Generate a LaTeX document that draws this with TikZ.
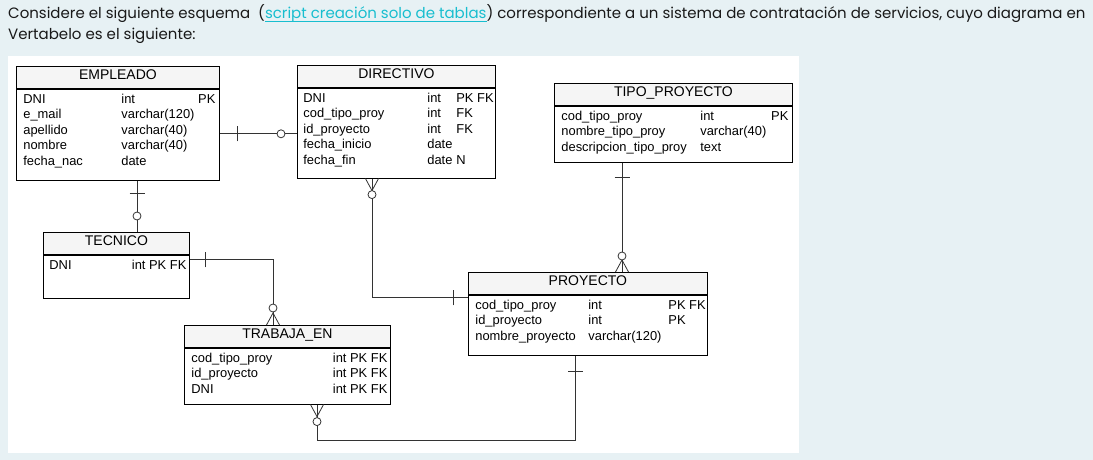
\documentclass[tikz,border=0pt]{standalone}
\usepackage{fontspec}
\setmainfont{Liberation Sans}
\newfontfamily\introfont{Poppins}
\newfontfamily\erdfont{Liberation Sans}
\usetikzlibrary{decorations.markings}
\definecolor{pagebg}{RGB}{231,241,244}
\definecolor{linkcol}{RGB}{24,190,207}
\definecolor{introtext}{RGB}{25,25,25}
\tikzset{
    tabhead/.style={draw, fill=gray!8, line width=0.8pt, minimum height=22pt, inner sep=0pt,
        text height=9.5pt, text depth=5pt, anchor=north west, font=\erdfont\fontsize{14}{16}\selectfont},
    tabbody/.style={draw, line width=0.8pt, inner sep=0pt, anchor=north west,
        font=\erdfont\fontsize{12.9}{15.5}\selectfont},
    intro/.style={anchor=base west, inner sep=0pt, text=introtext,
        font=\introfont\fontsize{15}{21}\selectfont},
    rel/.style={draw=black!80, line width=0.8pt},
    onebar/.style={postaction={decorate, decoration={markings,
        mark=at position #1 with {\draw[rel] (0,-7.5pt) -- (0,7.5pt);}}}},
    zeroring/.style={postaction={decorate, decoration={markings,
        mark=at position #1 with {\draw[rel, fill=white] (0,0) circle (4pt);}}}},
    crowstart/.style={postaction={decorate, decoration={markings,
        mark=at position 12pt with {\draw[rel] (-12pt,-6.5pt) -- (0,0) -- (-12pt,6.5pt);}}}},
    crowend/.style={postaction={decorate, decoration={markings,
        mark=at position -12pt with {\draw[rel] (12pt,-6.5pt) -- (0,0) -- (12pt,6.5pt);}}}}
}
\newcommand{\tabrows}[4]{\parbox[t][#1][t]{#2}{\vspace{3pt}\hspace*{#3}#4}}
\newsavebox{\linkbox}
\newcommand{\linkul}[1]{\sbox{\linkbox}{#1}\rlap{\rule[-3.3pt]{\wd\linkbox}{0.8pt}}\usebox{\linkbox}}

\begin{document}
\begin{tikzpicture}[x=1pt, y=-1pt]
    \useasboundingbox (0,0) rectangle (1093,460);
    \fill[pagebg] (0,0) rectangle (1093,460);
    \fill[white] (8,56) rectangle (799,453);
    % intro text
    \node[intro] (intro1) at (8,18.3) {Considere el siguiente esquema~ (\textcolor{linkcol}{\linkul{script creación solo de tablas}}) correspondiente a un sistema de contratación de servicios, cuyo diagrama en};
    \node[intro] (intro2) at (8,39.3) {Vertabelo es el siguiente:};
    % ----
    \node[tabhead, minimum width=203pt] (emp) at (16,66) {EMPLEADO};
    \node[tabbody] (emp-b) at (emp.south west) {\tabrows{91pt}{203pt}{7pt}{%
        \begin{tabular*}{192pt}{@{}p{98pt}@{}l@{\extracolsep{\fill}}r@{}}
        DNI & int & PK\\ e\_mail & varchar(120) & \\ apellido & varchar(40) & \\
        nombre & varchar(40) & \\ fecha\_nac & date &
        \end{tabular*}}};
    \node[tabhead, minimum width=198pt] (dir) at (297,65) {DIRECTIVO};
    \node[tabbody] (dir-b) at (dir.south west) {\tabrows{90pt}{198pt}{6pt}{%
        \begin{tabular}{@{}p{124pt}@{}p{29pt}@{}l@{}}
        DNI & int & PK FK\\ cod\_tipo\_proy & int & FK\\ id\_proyecto & int & FK\\
        fecha\_inicio & date & \\ fecha\_fin & date & N
        \end{tabular}}};
    \node[tabhead, minimum width=238pt] (tipo) at (554,83) {TIPO\_PROYECTO};
    \node[tabbody] (tipo-b) at (tipo.south west) {\tabrows{56pt}{238pt}{7pt}{%
        \begin{tabular*}{227pt}{@{}p{139pt}@{}l@{\extracolsep{\fill}}r@{}}
        cod\_tipo\_proy & int & PK\\ nombre\_tipo\_proy & varchar(40) & \\
        descripcion\_tipo\_proy & text &
        \end{tabular*}}};
    \node[tabhead, minimum width=146pt] (tec) at (43,232) {TECNICO};
    \node[tabbody] (tec-b) at (tec.south west) {\tabrows{43pt}{146pt}{6pt}{%
        \begin{tabular*}{137pt}{@{}l@{\extracolsep{\fill}}r@{}}
        DNI & int PK FK
        \end{tabular*}}};
    \node[tabhead, minimum width=239pt] (proy) at (468,272) {PROYECTO};
    \node[tabbody] (proy-b) at (proy.south west) {\tabrows{60pt}{239pt}{7pt}{%
        \begin{tabular}{@{}p{113pt}@{}p{80pt}@{}l@{}}
        cod\_tipo\_proy & int & PK FK\\ id\_proyecto & int & PK\\
        nombre\_proyecto & varchar(120) &
        \end{tabular}}};
    \node[tabhead, minimum width=206pt] (tra) at (184,325) {TRABAJA\_EN};
    \node[tabbody] (tra-b) at (tra.south west) {\tabrows{56pt}{206pt}{7pt}{%
        \begin{tabular*}{196pt}{@{}l@{\extracolsep{\fill}}r@{}}
        cod\_tipo\_proy & int PK FK\\ id\_proyecto & int PK FK\\ DNI & int PK FK
        \end{tabular*}}};
    % ----
    \coordinate (e2d) at ([yshift=-45pt]emp-b.north east);
    \draw[rel, onebar=18pt, zeroring=-16pt] (e2d) -- (e2d -| dir-b.west);
    \coordinate (e2t) at ([xshift=121pt]emp-b.south west);
    \draw[rel, onebar=13pt, zeroring=-16pt] (e2t) -- (e2t |- tec.north);
    \coordinate (t2w) at ([yshift=-5pt]tec-b.north east);
    \coordinate (wtop) at ([xshift=89pt]tra.north west);
    \draw[rel, onebar=16pt, crowend, zeroring=-17pt] (t2w) -| (wtop);
    \coordinate (wbot) at ([xshift=133pt]tra-b.south west);
    \coordinate (pbot) at ([xshift=107pt]proy-b.south west);
    \draw[rel, crowstart, zeroring=17pt, onebar=-16pt] (wbot) -- ++(0,36) -| (pbot);
    \coordinate (dbot) at ([xshift=75pt]dir-b.south west);
    \coordinate (pleft) at ([yshift=-3pt]proy-b.north west);
    \draw[rel, crowstart, zeroring=16pt, onebar=-15pt] (dbot) |- (pleft);
    \coordinate (tbot) at ([xshift=68pt]tipo-b.south west);
    \draw[rel, onebar=15pt, crowend, zeroring=-16pt] (tbot) -- (tbot |- proy.north);
\end{tikzpicture}
\end{document}
